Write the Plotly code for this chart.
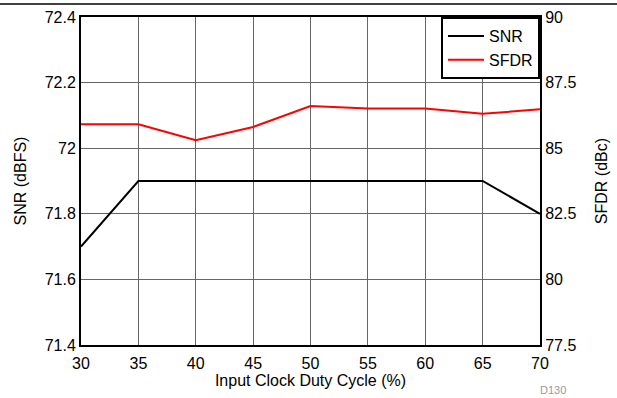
import plotly.graph_objects as go

duty = [30, 35, 40, 45, 50, 55, 60, 65, 70]
snr = [71.7, 71.9, 71.9, 71.9, 71.9, 71.9, 71.9, 71.9, 71.8]
sfdr = [85.91, 85.91, 85.30, 85.81, 86.61, 86.51, 86.51, 86.31, 86.48]

x_ticks = [30, 35, 40, 45, 50, 55, 60, 65, 70]
snr_ticks = [71.4, 71.6, 71.8, 72.0, 72.2, 72.4]
snr_labels = ["71.4", "71.6", "71.8", "72", "72.2", "72.4"]
sfdr_ticks = [77.5, 80, 82.5, 85, 87.5, 90]
sfdr_labels = ["77.5", "80", "82.5", "85", "87.5", "90"]

font = dict(family="Liberation Sans, Arial, sans-serif", size=16, color="black")

fig = go.Figure()
fig.add_trace(go.Scatter(x=duty, y=snr, name="SNR", mode="lines",
                         line=dict(color="black", width=2), yaxis="y"))
fig.add_trace(go.Scatter(x=duty, y=sfdr, name="SFDR", mode="lines",
                         line=dict(color="#ff0000", width=2), yaxis="y2"))

fig.update_layout(
    width=617, height=398,
    margin=dict(l=81, r=77, t=17, b=53),
    paper_bgcolor="white", plot_bgcolor="white",
    font=font,
    showlegend=True,
    legend=dict(x=1, y=1, xanchor="right", yanchor="top",
                bgcolor="white", bordercolor="black", borderwidth=2,
                font=dict(family="Liberation Sans, Arial, sans-serif", size=16),
                itemwidth=36, tracegroupgap=0),
    xaxis=dict(range=[30, 70], tickvals=x_ticks, ticktext=[str(v) for v in x_ticks],
               showgrid=True, gridcolor="#666666", gridwidth=1,
               showline=True, linecolor="black", linewidth=2, mirror=True,
               ticks="outside", ticklen=3, tickcolor="rgba(0,0,0,0)",
               zeroline=False, automargin=False,
               title=dict(text="Input Clock Duty Cycle (%)", standoff=2,
                          font=dict(size=16))),
    yaxis=dict(range=[71.4, 72.4], tickvals=snr_ticks, ticktext=snr_labels,
               showgrid=True, gridcolor="#666666", gridwidth=1,
               showline=True, linecolor="black", linewidth=2,
               ticks="", zeroline=False, automargin=False,
               title=dict(text="SNR (dBFS)", standoff=14, font=dict(size=16))),
    yaxis2=dict(range=[77.5, 90], tickvals=sfdr_ticks, ticktext=sfdr_labels,
                overlaying="y", side="right",
                showgrid=False, showline=True, linecolor="black", linewidth=2,
                ticks="", zeroline=False, automargin=False,
                title=dict(text="SFDR (dBc)", standoff=20, font=dict(size=16))),
    shapes=[dict(type="line", xref="paper", yref="paper",
                 x0=-81/459, x1=(617-81)/459, y0=(398-53-4)/328, y1=(398-53-4)/328,
                 line=dict(color="black", width=1.5))],
    annotations=[dict(text="D130", xref="paper", yref="paper",
                      x=(553-81)/459, y=-(390-345)/328, xanchor="center", yanchor="middle",
                      showarrow=False, font=dict(size=11, color="#999999"))],
)

fig.write_html("out.html", config={"displayModeBar": False},
               post_script="document.body.style.margin='0';")
